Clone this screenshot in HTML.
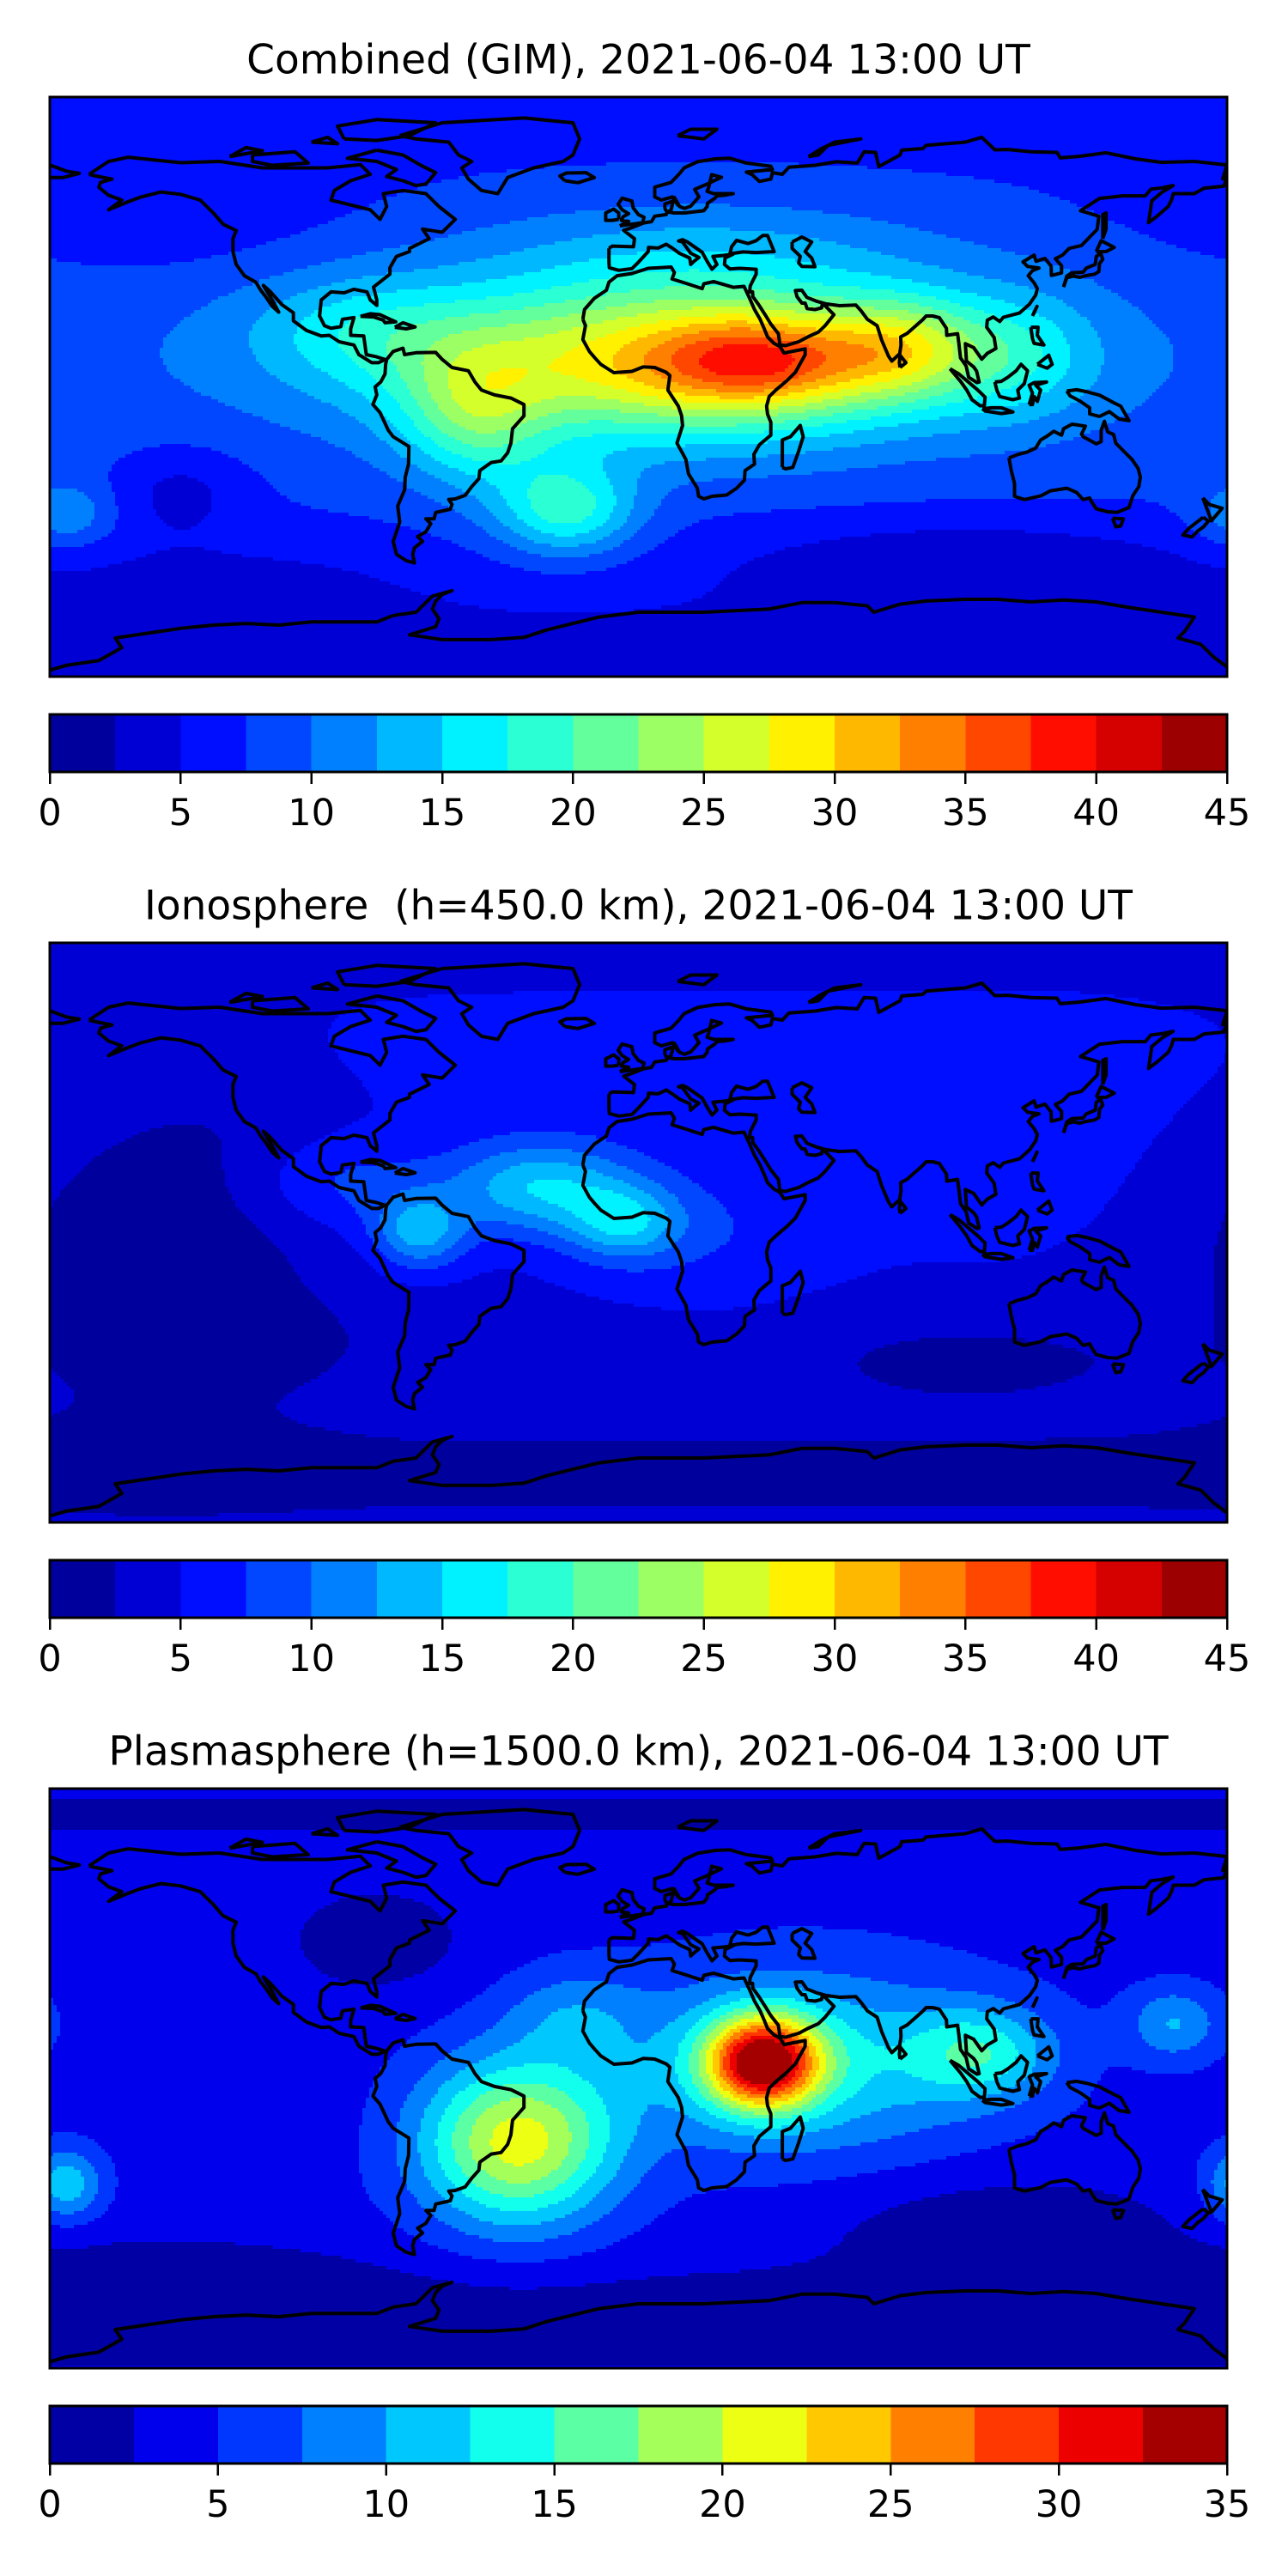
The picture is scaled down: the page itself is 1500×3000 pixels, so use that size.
<!DOCTYPE html>
<html><head><meta charset="utf-8"><style>
html,body{margin:0;padding:0;background:#fff;}
svg{display:block;font-family:"DejaVu Sans","Liberation Sans",sans-serif;}
text{white-space:pre;}
</style></head><body>
<svg id="fig" width="1500" height="3000" viewBox="0 0 1500 3000" xmlns="http://www.w3.org/2000/svg">
<rect x="0" y="0" width="1500" height="3000" fill="#fff"/>
</svg>
<script>
// ---------- data ----------
const panelTitles = ["Combined (GIM), 2021-06-04 13:00 UT","Ionosphere  (h=450.0 km), 2021-06-04 13:00 UT","Plasmasphere (h=1500.0 km), 2021-06-04 13:00 UT"];
const panelVmax = [45,45,35];
const tickLabels1 = ["0","5","10","15","20","25","30","35","40","45"];
const tickLabels2 = ["0","5","10","15","20","25","30","35","40","45"];
const tickLabels3 = ["0","5","10","15","20","25","30","35"];
const baseline = [6.5,4.3,4];
// blobs: lon, lat, amplitude, lon-width, lat-width
const p1Lon=[10,38,80,-50,-22,-85,115,-175,20,-140,100,0,-150,-120,0];
const p1Lat=[8,8,12,-10,-38,18,10,-40,42,-32,-55,-90,55,-60,10];
const p1Amp=[20,12,10,9,11,5,6,5,4,-3.5,-4,-3,-2.5,-2,3];
const p1Sx=[55,22,16,16,15,25,18,10,50,15,50,1000,40,40,1000];
const p1Sy=[17,10,11,15,10,12,14,7,12,10,10,18,15,10,35];
const p2Lon=[-30,-4,-67,-90,20,110,-145,0,100,-110,-120,0,-20];
const p2Lat=[14,3,0,15,0,20,-5,-75,-40,-35,40,50,-40];
const p2Amp=[10,8,9,4,3,2,-3.5,-2.5,-2.5,-1.5,-1,1.5,-1.5];
const p2Sx=[20,12,10,20,30,30,35,1000,40,25,30,1000,20];
const p2Sy=[10,8,8,10,15,20,40,12,10,10,15,20,8];
const p3Lon=[38,50,105,-37,-175,-20,164,-80,110,0,0,-120,-140];
const p3Lat=[5,5,8,-20,-33,20,17,43,-45,-75,82,-10,-62];
const p3Amp=[26,9,8,17,8,4,6,-3,-3,-3,-2,-1,-2];
const p3Sx=[12,40,15,21,8,15,10,20,40,1000,1000,20,40];
const p3Sy=[10,20,10,18,8,10,8,12,12,12,6,15,10];
const blobs=[[p1Lon,p1Lat,p1Amp,p1Sx,p1Sy],[p2Lon,p2Lat,p2Amp,p2Sx,p2Sy],[p3Lon,p3Lat,p3Amp,p3Sx,p3Sy]];
const tickSets=[tickLabels1,tickLabels2,tickLabels3];

// coastlines (lon,lat)
const coasts = [
[[-168,66],[-162,70],[-156,71.3],[-140,69.6],[-128,70],[-115,68],[-95,68],[-85,69],[-82,66],[-88,64],[-93,61],[-94,58],[-90,57],[-82,55],[-79,52],[-77,56],[-78,60],[-72,61],[-65,60],[-61,56],[-56,52],[-60,48],[-66,49],[-64,46],[-70,43],[-70,42],[-74,40.5],[-76,37],[-76,35],[-81,31],[-80,27],[-80,25.3],[-82,27],[-83,29.5],[-87,30.3],[-90,29.2],[-94,29.5],[-97,27],[-97.5,22],[-96,19],[-94,18.2],[-91,18.7],[-90.5,21],[-87,21.5],[-88,18],[-88,16],[-84,15.8],[-83.2,10],[-80,9.3],[-77.5,8.5],[-79.5,7.5],[-81.5,7.5],[-85.5,10],[-87,13],[-91.5,14],[-94.5,16],[-97,15.8],[-101.5,17.5],[-105.5,20.5],[-105.5,23],[-109,25.5],[-112.5,29.5],[-114.7,31.5],[-112,27],[-110,23.2],[-112,25],[-114,28],[-115.5,30],[-117,32.5],[-120.5,34.5],[-123,38],[-124,42],[-124,46],[-123,48.5],[-127,50.5],[-130,54],[-134,58],[-140,59.8],[-146,60.5],[-152,59],[-156,57.5],[-162,55],[-158,58],[-162,59.5],[-165,62],[-164.5,63.5],[-161,64.5],[-166,65.5],[-168,66]],
[[-77,8.5],[-75,11],[-72,12],[-71.5,10],[-68,10.6],[-62,10.7],[-60,8.5],[-57,6],[-52,5],[-50,1.5],[-48,-1],[-44,-2.5],[-39,-3.5],[-35,-5.5],[-35,-9],[-38.5,-13],[-39,-17.5],[-40,-20.5],[-42,-23],[-45,-23.5],[-48.5,-26],[-48.8,-28.5],[-51,-31],[-53,-33.7],[-56,-34.8],[-58,-35],[-57,-36.5],[-57.5,-38],[-62,-39],[-62.5,-41],[-65,-41],[-63.5,-42.5],[-65,-45],[-67.5,-46.5],[-66,-48],[-68.5,-50],[-69,-52],[-68.5,-54.7],[-71,-54],[-74,-52],[-75,-48],[-74,-45],[-73,-42],[-73.6,-37],[-71.5,-32],[-71.3,-28],[-70.3,-24],[-70.2,-18.5],[-75,-15.5],[-76.5,-13.5],[-79,-8],[-81.2,-5.5],[-80,-2.5],[-80.5,0],[-78.8,1.5],[-77.5,4],[-77.3,7],[-77,8.5]],
[[-17,21],[-16.5,24],[-13.5,27.5],[-9.8,30],[-9,32.5],[-6.5,34.5],[-2,35.2],[3,36.8],[10,37.2],[11,35.5],[10.3,33.5],[15,32],[19.5,30.5],[20,32],[23,32.7],[29,30.9],[32.3,31.2],[34,27.5],[35.5,24],[37.2,21],[38.5,18],[39.5,15.5],[41.5,13.5],[43.3,12.5],[44.5,10.5],[51,11.8],[51,10],[48,4.5],[45.5,2],[42,-1],[40,-3],[39.2,-6],[39.5,-8.5],[40.5,-11],[40.5,-15],[37,-18],[35.3,-21],[35.5,-24],[32.6,-26],[32.4,-29],[30,-31.5],[27,-33.6],[22.5,-34],[20,-34.8],[18.4,-34],[18,-31.5],[15.3,-27],[14.5,-22.5],[11.8,-17.5],[13.5,-12],[13.2,-9],[12.2,-6],[9,-1],[9.6,3.5],[8.5,4.5],[5,6],[1.5,6.2],[-2,4.8],[-7.5,4.4],[-11.5,7],[-13.3,9],[-15,11],[-17,14.7],[-16.2,19],[-17,21]],
[[-9,43],[-9,38.7],[-8.9,37],[-6,36.2],[-2,36.7],[0,38.7],[3,42],[3.1,43.3],[6,43.1],[8.5,44.3],[10.5,43],[12.5,41.5],[15.7,40],[16,38],[17,39],[18.5,40.2],[16,41.5],[13.5,45],[12.3,45.3],[13.5,45.7],[15,45],[19.5,41.8],[21,39],[22.5,36.5],[24,38],[22.8,40.5],[26,40.8],[29,41.2],[26.5,40],[26.3,38],[28,36.6],[31,36.8],[36,36.5],[36,35],[35,33],[34.2,31.3],[34,29.5],[34.9,29.5],[35,28],[36.8,25.5],[39,22],[40.5,19.5],[42.8,16.5],[43.3,13],[45,12.8],[49,14],[52,15.6],[55,17],[57,18.9],[59.8,22.4],[58.5,23.7],[56.3,26],[56,24.5],[54,24],[51.6,24.3],[51,26],[50,26],[48.5,28],[48,29.9],[50,30],[51.5,27.8],[54.7,26.5],[57.3,25.8],[61.5,25.2],[66.5,25.4],[68,23.7],[70,21],[73,19],[74.4,14.5],[76.5,9.5],[77.5,8],[79.9,10.3],[80.3,13],[80.2,15.5],[82.2,16.6],[86.9,20.8],[88,22],[90,22],[92,21.5],[94.2,18.2],[94.3,16],[97.6,16.5],[98,13.5],[98.5,9],[100.2,6.5],[101,3],[103.5,1.3],[104.2,1.5],[103.4,4.9],[102.5,6.2],[100.3,8],[100,13.4],[102.5,12.2],[105,8.6],[106.7,10.4],[109.3,11.9],[108.8,15.3],[106.5,18.5],[106.7,20.7],[108.5,21.7],[110.5,20.3],[111.6,21.6],[116.5,22.9],[119.6,25.7],[121.5,28.5],[122,30.5],[121,32.3],[119.2,34.5],[120.5,36.1],[122.5,36.9],[119,37.4],[117.6,38.8],[121,40.9],[121.6,39],[124.3,39.9],[126.2,37.5],[126.3,34.6],[129.4,35.4],[129.4,37.6],[127.5,39.8],[129.7,40.9],[131.7,43],[135.5,43.9],[140.3,48.9],[140.8,53],[137.5,54],[135.2,54.7],[141,58.5],[148,59.3],[155,59.3],[156.7,61.4],[160,61.8],[163.5,62.5],[160.2,60.5],[157,57.8],[156,51],[158.5,52.9],[162,56],[163,58],[163.6,60],[170,60],[173,61.7],[179,62.3],[180,65],[178.7,64.6],[180,68.9],[170,70],[160,69.7],[152,70.8],[143,72.7],[135,71.6],[129,71.1],[128,72.8],[120,73],[113,73.7],[109,73.6],[105,77.5],[100,76],[88,75],[87,74],[80.5,73.5],[80,72],[73.5,68.4],[72.5,72.8],[69,73],[66.9,69.5],[60.5,69.9],[54,68.8],[46,68.2],[44,66],[41,66.5],[40.5,64.5],[37,63.8],[34.8,65.9],[33,66.7],[41,67.5],[40.5,68.5],[33,69.5],[28,71],[23.5,70.8],[18,69.9],[14,68],[12.3,65.9],[10,63.5],[5,62],[5,59],[7,58],[10.4,59],[12,56.5],[11,58.8],[12.6,56],[14.1,55.4],[16,56.1],[18.5,59],[17.2,61.3],[21,63],[25.4,65.1],[22.4,65.9],[21.5,62],[21,60.7],[23,60],[29,60],[26.2,59.5],[24,59.3],[23.4,58.6],[21.1,57],[21,56],[20,54.7],[14.1,54],[10.9,54],[8.6,54.4],[8.1,55.5],[8.1,56.8],[10.6,57.7],[10.3,56.2],[10,55],[8.9,54.3],[8.5,53.5],[5,53],[4,51.3],[1.6,50.9],[-1.6,49.6],[-4.5,48.6],[-1.2,46],[-1.5,43.5],[-8,43.7],[-9,43]],
[[-180,68.9],[-175,67],[-171,66.3],[-176,65],[-180,65]],
[[-73,78],[-60,82],[-35,83.5],[-20,82],[-18,77],[-20,72],[-23,70],[-32,68],[-40,65],[-43,60],[-48,61],[-52,64.5],[-54,68],[-51,70],[-55,72],[-58,76],[-68,77],[-73,78]],
[[113.3,-22],[114,-26],[115,-30],[115,-34],[118,-35],[123,-33.9],[126,-32.3],[131,-31.5],[134,-32.8],[136,-35],[138,-34.5],[138.5,-35.6],[140,-37.9],[143.5,-38.8],[146.3,-39],[150,-37.5],[151.2,-33.8],[153,-31],[153.5,-28],[152.8,-25.3],[150.9,-22.5],[148.8,-20.4],[146,-17.5],[145.3,-14.8],[143.5,-14],[142.5,-10.7],[141.5,-13.5],[141.5,-17],[140,-17.7],[136,-15.5],[135.5,-14.7],[136.7,-12.2],[132.6,-11.6],[130,-13],[129.4,-15],[127,-13.8],[125,-15.3],[123,-16.5],[121.5,-19],[118.8,-20.3],[116,-21],[114,-21.8],[113.3,-22]],
[[145,-40.8],[148.3,-41],[147.5,-43.2],[146,-43.5],[145,-40.8]],
[[-180,-88],[-175,-86.5],[-165,-85],[-158,-81],[-160,-78],[-150,-76.5],[-140,-75],[-130,-74],[-120,-73.5],[-110,-74],[-100,-73],[-90,-73],[-80,-73],[-75,-71],[-68,-70],[-63,-65],[-57,-63.3],[-60,-64.5],[-62,-66.5],[-63,-69],[-61,-72],[-62,-74.5],[-70,-77],[-60,-78.5],[-45,-78.5],[-35,-77.8],[-28,-75.5],[-20,-73.5],[-12,-71.5],[0,-70],[10,-70],[20,-70],[30,-69.5],[40,-69],[50,-67],[60,-67],[70,-68],[72,-70],[80,-67.5],[88,-66.5],[100,-66],[110,-66],[120,-66.8],[130,-66.2],[140,-66.8],[150,-68.5],[160,-70],[170,-71.5],[167,-76],[165,-78],[172,-80],[176,-84],[180,-87]],
[[44,-25],[44,-16.5],[46.5,-15.5],[49.5,-12],[50.4,-15.5],[49,-20],[47.2,-25],[45,-25.5],[44,-25]],
[[-5.7,50],[1.3,51],[1.7,52.7],[0,53.5],[-1.6,55.6],[-2,57.7],[-5,58.6],[-6.2,56.7],[-5,55],[-3,53.8],[-4.7,52.8],[-5.2,51.7],[-3,51.4],[-5.7,50]],
[[-6,52],[-6,54],[-7.6,55.2],[-10,54],[-10,51.7],[-8,51.7],[-6,52]],
[[-22.5,64],[-24,65.5],[-22,66.4],[-16,66.5],[-13.5,65],[-18.5,63.4],[-22.5,64]],
[[130,31],[131,33.9],[133,34.4],[135,34],[136.8,34.5],[139.5,35],[140.8,35.8],[141,38.3],[142,39.6],[141.4,41.4],[140,40.5],[139.7,38],[137,36.9],[136,35.6],[132.5,35.4],[131,34.4],[130,31]],
[[140,42],[141.5,45.4],[145.5,43.3],[143,42],[140,42]],
[[142,46],[143,49],[143,54],[142,53.5],[142,46]],
[[95.3,5.6],[98,4],[103.8,-1],[106,-3.2],[105.8,-5.8],[104.5,-5.9],[102,-4],[100.4,-1],[98.5,1.7],[95.3,5.6]],
[[109,1.5],[109.6,-1],[110.5,-3],[114.5,-4],[116.5,-3.5],[116,-1],[118,1],[119,5],[117,7],[115.5,5],[113,3],[111,1.7],[109,1.5]],
[[105.2,-6.8],[108,-6.5],[111,-6.5],[114.5,-7.8],[111,-8.3],[106,-7.5],[105.2,-6.8]],
[[119.5,-5.5],[120.5,-2],[119.5,0.5],[121,1.3],[124.8,1.5],[121.5,0.5],[123,-1],[122,-4.5],[121,-3],[120.5,-5.5],[119.5,-5.5]],
[[131,-1.3],[134,-0.9],[137,-1.5],[141,-2.6],[145.5,-5],[147.5,-6],[150,-10.5],[147,-10],[144,-7.7],[141,-9.2],[138,-8.4],[138,-6.5],[135,-4.4],[132,-2.8],[131,-1.3]],
[[120,18.5],[122.2,18.5],[122,16],[124,13],[121,13.5],[120.5,15],[120,18.5]],
[[122,7],[125.5,9.8],[126.5,7],[125,5.8],[122,7]],
[[120.5,22],[121.9,25],[121,23],[120.5,22]],
[[80,6],[81.8,7.5],[80,9.8],[79.8,7.5],[80,6]],
[[172.6,-34.5],[174.5,-36.5],[178.5,-37.7],[177,-39.5],[175.2,-41.6],[174.6,-39.8],[172.6,-34.5]],
[[172.7,-40.5],[174.3,-41.7],[172.8,-43.5],[171,-44.8],[169.3,-46.6],[166.5,-46],[168.3,-44],[172.7,-40.5]],
[[-85,21.9],[-82,22.7],[-79,22.4],[-76,21],[-74.2,20.2],[-77.5,19.9],[-78,20.7],[-81,21.7],[-85,21.9]],
[[-74.5,18.5],[-72,19.9],[-68.3,18.6],[-71,18],[-74.5,18.5]],
[[-80,73.5],[-72,72],[-66,68.5],[-62,66.5],[-65,63],[-68,62.5],[-72,64],[-77,65.3],[-74,67.5],[-80,70],[-89,71],[-80,73.5]],
[[-118,72],[-105,73],[-101,69.5],[-112,68.8],[-118,70],[-118,72]],
[[-90,77],[-80,76.5],[-70,78],[-62,82],[-80,83],[-92,81],[-90,77]],
[[-125,71.5],[-120,74.3],[-115,73.3],[-125,71.5]],
[[-100,76],[-95,77.5],[-92,75.5],[-100,76]],
[[52,71.5],[56,74],[60,76],[68,77],[58,75],[55,72],[52,71.5]],
[[12,78],[16,80],[24,80],[20,77],[12,78]],
[[28,41.3],[28.5,43.5],[30,45.5],[33.5,44.5],[36,45.4],[38,47],[39.5,47],[41.5,42],[36,41.7],[32,41.9],[28,41.3]],
[[47,45],[50,46.5],[53,45],[51,42],[53,40],[54,37.3],[50,37.4],[49,38.5],[49.5,40.5],[47,43],[47,45]]
];

// ---------- layout ----------
const AX_L=58, AX_R=1429, PANEL_DY=985;
const AX_T0=113, AX_H=675, CB_T0=832, CB_H=67, TITLE_Y0=70, TICK_Y0=947;
const NS="http://www.w3.org/2000/svg";
const svg=document.getElementById('fig');
function el(tag,attrs,parent){const e=document.createElementNS(NS,tag);for(const k in attrs)e.setAttribute(k,attrs[k]);(parent||svg).appendChild(e);return e;}
function jet(t){const c=v=>Math.round(255*Math.max(0,Math.min(1,v)));return `rgb(${c(1.5-Math.abs(4*t-3))},${c(1.5-Math.abs(4*t-2))},${c(1.5-Math.abs(4*t-1))})`;}

for(let p=0;p<3;p++){
  const top=AX_T0+p*PANEL_DY, W=AX_R-AX_L, H=AX_H;
  const xOf=lon=>AX_L+(lon+180)/360*W;
  const yOf=lat=>top+(90-lat)/180*H;
  const vmax=panelVmax[p], nLev=vmax/2.5;
  const colors=[];for(let i=0;i<nLev;i++)colors.push(jet((i+0.5)/nLev));
  const [bl,bt,ba,bsx,bsy]=blobs[p];
  const field=(lon,lat)=>{let v=baseline[p];for(let i=0;i<bl.length;i++){let d=lon-bl[i];d=((d+540)%360)-180;const e=0.5*(d/bsx[i])**2+0.5*((lat-bt[i])/bsy[i])**2;if(e<20)v+=ba[i]*Math.exp(-e);}return v;};
  const g=el('g',{});
  
  
  const title=el('text',{x:(AX_L+AX_R)/2,y:TITLE_Y0+p*PANEL_DY,'text-anchor':'middle','dominant-baseline':'central','font-size':47,fill:'#000'},g);
  
  
  title.textContent=panelTitles[p];
  el('clipPath',{id:'clip'+p},g).appendChild(el('rect',{x:AX_L,y:top,width:W,height:H},g));
  const fg=el('g',{'clip-path':`url(#clip${p})`,'shape-rendering':'crispEdges'},g);
  
  
  const cs=4, nx=Math.ceil(W/cs), ny=Math.ceil(H/cs);
  for(let j=0;j<ny;j++){
    const lat=90-(j+0.5)*cs/H*180;
    let runStart=0, runBand=-1;
    const flush=(end)=>{if(runBand<0)return;el('rect',{x:AX_L+runStart*cs,y:top+j*cs,width:(end-runStart)*cs+0.5,height:cs+0.5,fill:colors[runBand]},fg);};
    for(let i=0;i<nx;i++){
      const lon=-180+(i+0.5)*cs/W*360;
      let b=Math.floor(field(lon,lat)/2.5);b=Math.max(0,Math.min(nLev-1,b));
      if(b!==runBand){flush(i);runStart=i;runBand=b;}
    }
    flush(nx);
  }
  const cg=el('g',{'clip-path':`url(#clip${p})`,fill:'none',stroke:'#000','stroke-width':4,'stroke-linejoin':'round'},g);
  
  
  coasts.forEach(c=>{el('polyline',{points:c.map(q=>xOf(q[0]).toFixed(1)+','+yOf(q[1]).toFixed(1)).join(' ')},cg);});
  const fr=el('rect',{x:AX_L,y:top,width:W,height:H,fill:'none',stroke:'#000','stroke-width':3},g);
  
  
  // colorbar
  const cbTop=CB_T0+p*PANEL_DY;
  const cb=el('g',{'shape-rendering':'crispEdges'},g);
  
  
  const cx=v=>AX_L+v/vmax*W;
  for(let i=0;i<nLev;i++){const r=el('rect',{x:cx(i*2.5),y:cbTop,width:cx((i+1)*2.5)-cx(i*2.5)+0.6,height:CB_H,fill:colors[i]},cb);}
  el('rect',{x:AX_L,y:cbTop,width:W,height:CB_H,fill:'none',stroke:'#000','stroke-width':3},cb);
  tickSets[p].forEach(lbl=>{const v=parseFloat(lbl);const x=cx(v);
    el('line',{x1:x,x2:x,y1:cbTop+CB_H,y2:cbTop+CB_H+14,stroke:'#000','stroke-width':2.5},cb);
    const t=el('text',{x:x,y:TICK_Y0+p*PANEL_DY,'text-anchor':'middle','dominant-baseline':'central','font-size':43,fill:'#000'},cb);
    
    
    t.textContent=lbl;});
}
</script>
</body></html>
